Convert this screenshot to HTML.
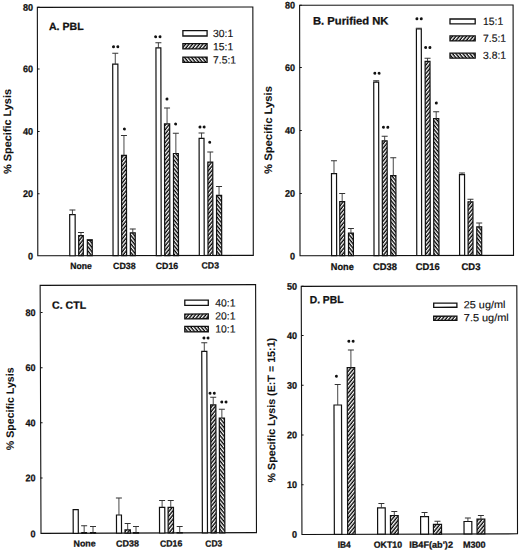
<!DOCTYPE html>
<html><head><meta charset="utf-8"><style>
html,body{margin:0;padding:0;background:#fff;width:520px;height:551px;overflow:hidden;}
svg{display:block;}
text{font-family:"Liberation Sans",sans-serif;fill:#111;text-rendering:geometricPrecision;}
</style></head><body>
<svg width="520" height="551" viewBox="0 0 520 551">
<defs>
<pattern id="hf" patternUnits="userSpaceOnUse" width="2.7" height="2.7" patternTransform="rotate(39)"><rect width="2.7" height="2.7" fill="#000"/><rect width="1.35" height="2.7" fill="#fff"/></pattern>
<pattern id="hb" patternUnits="userSpaceOnUse" width="2.7" height="2.7" patternTransform="rotate(-39)"><rect width="2.7" height="2.7" fill="#000"/><rect width="1.35" height="2.7" fill="#fff"/></pattern>
</defs>
<rect width="520" height="551" fill="#fff"/>
<g transform="rotate(-0.1046 145.32 131.41)">
<rect x="37.57" y="7.22" width="215.5" height="248.38" fill="none" stroke="#111" stroke-width="1.1"/>
<text x="32.77" y="259.19" font-size="9.6" font-weight="bold" text-anchor="end" textLength="5.05" lengthAdjust="spacingAndGlyphs" stroke="#111" stroke-width="0.26">0</text>
<line x1="37.46" y1="193.5" x2="39.46" y2="193.5" stroke="#111" stroke-width="1"/>
<text x="32.88" y="196.89" font-size="9.6" font-weight="bold" text-anchor="end" textLength="10.1" lengthAdjust="spacingAndGlyphs" stroke="#111" stroke-width="0.26">20</text>
<line x1="37.58" y1="131.2" x2="39.58" y2="131.2" stroke="#111" stroke-width="1"/>
<text x="32.99" y="134.59" font-size="9.6" font-weight="bold" text-anchor="end" textLength="10.1" lengthAdjust="spacingAndGlyphs" stroke="#111" stroke-width="0.26">40</text>
<line x1="37.69" y1="68.7" x2="39.69" y2="68.7" stroke="#111" stroke-width="1"/>
<text x="33.11" y="72.09" font-size="9.6" font-weight="bold" text-anchor="end" textLength="10.1" lengthAdjust="spacingAndGlyphs" stroke="#111" stroke-width="0.26">60</text>
<line x1="37.8" y1="7.1" x2="39.8" y2="7.1" stroke="#111" stroke-width="1"/>
<text x="33.22" y="10.49" font-size="9.6" font-weight="bold" text-anchor="end" textLength="10.1" lengthAdjust="spacingAndGlyphs" stroke="#111" stroke-width="0.26">80</text>
<rect x="69.54" y="214.57" width="5.45" height="41.03" fill="#fff" stroke="#111" stroke-width="1.2"/>
<line x1="72.27" y1="214.57" x2="72.27" y2="209.77" stroke="#333" stroke-width="0.9"/>
<line x1="69.27" y1="209.77" x2="75.27" y2="209.77" stroke="#333" stroke-width="1"/>
<rect x="78.49" y="235.48" width="4.6" height="20.12" fill="url(#hf)" stroke="#111" stroke-width="1.2"/>
<line x1="80.79" y1="235.48" x2="80.79" y2="232.28" stroke="#333" stroke-width="0.9"/>
<line x1="77.79" y1="232.28" x2="83.79" y2="232.28" stroke="#333" stroke-width="1"/>
<rect x="87.14" y="240.2" width="4.9" height="15.4" fill="url(#hb)" stroke="#111" stroke-width="1.2"/>
<line x1="89.59" y1="240.2" x2="89.59" y2="239.4" stroke="#333" stroke-width="0.9"/>
<line x1="86.59" y1="239.4" x2="92.59" y2="239.4" stroke="#333" stroke-width="1"/>
<rect x="112.83" y="64.05" width="5.16" height="191.55" fill="#fff" stroke="#111" stroke-width="1.2"/>
<line x1="115.41" y1="64.05" x2="115.41" y2="53.25" stroke="#333" stroke-width="0.9"/>
<line x1="112.41" y1="53.25" x2="118.41" y2="53.25" stroke="#333" stroke-width="1"/>
<rect x="121.49" y="155.36" width="4.9" height="100.24" fill="url(#hf)" stroke="#111" stroke-width="1.2"/>
<line x1="123.94" y1="155.36" x2="123.94" y2="135.46" stroke="#333" stroke-width="0.9"/>
<line x1="120.94" y1="135.46" x2="126.94" y2="135.46" stroke="#333" stroke-width="1"/>
<rect x="130.14" y="232.78" width="4.9" height="22.82" fill="url(#hb)" stroke="#111" stroke-width="1.2"/>
<line x1="132.59" y1="232.78" x2="132.59" y2="228.88" stroke="#333" stroke-width="0.9"/>
<line x1="129.59" y1="228.88" x2="135.59" y2="228.88" stroke="#333" stroke-width="1"/>
<rect x="156.09" y="47.92" width="4.9" height="207.68" fill="#fff" stroke="#111" stroke-width="1.2"/>
<line x1="158.54" y1="47.92" x2="158.54" y2="42.72" stroke="#333" stroke-width="0.9"/>
<line x1="155.54" y1="42.72" x2="161.54" y2="42.72" stroke="#333" stroke-width="1"/>
<rect x="164.49" y="123.94" width="5.2" height="131.66" fill="url(#hf)" stroke="#111" stroke-width="1.2"/>
<line x1="167.09" y1="123.94" x2="167.09" y2="107.94" stroke="#333" stroke-width="0.9"/>
<line x1="164.09" y1="107.94" x2="170.09" y2="107.94" stroke="#333" stroke-width="1"/>
<rect x="173.39" y="153.56" width="4.9" height="102.04" fill="url(#hb)" stroke="#111" stroke-width="1.2"/>
<line x1="175.84" y1="153.56" x2="175.84" y2="133.36" stroke="#333" stroke-width="0.9"/>
<line x1="172.84" y1="133.36" x2="178.84" y2="133.36" stroke="#333" stroke-width="1"/>
<rect x="199.09" y="138.4" width="4.9" height="117.2" fill="#fff" stroke="#111" stroke-width="1.2"/>
<line x1="201.54" y1="138.4" x2="201.54" y2="133" stroke="#333" stroke-width="0.9"/>
<line x1="198.54" y1="133" x2="204.54" y2="133" stroke="#333" stroke-width="1"/>
<rect x="207.79" y="162.32" width="4.9" height="93.28" fill="url(#hf)" stroke="#111" stroke-width="1.2"/>
<line x1="210.24" y1="162.32" x2="210.24" y2="152.12" stroke="#333" stroke-width="0.9"/>
<line x1="207.24" y1="152.12" x2="213.24" y2="152.12" stroke="#333" stroke-width="1"/>
<rect x="216.39" y="195.53" width="5.1" height="60.07" fill="url(#hb)" stroke="#111" stroke-width="1.2"/>
<line x1="218.94" y1="195.53" x2="218.94" y2="186.73" stroke="#333" stroke-width="0.9"/>
<line x1="215.94" y1="186.73" x2="221.94" y2="186.73" stroke="#333" stroke-width="1"/>
<circle cx="113.65" cy="46.79" r="1.5" fill="#111"/>
<circle cx="117.95" cy="46.8" r="1.5" fill="#111"/>
<circle cx="124.4" cy="128.86" r="1.5" fill="#111"/>
<circle cx="155.77" cy="36.87" r="1.5" fill="#111"/>
<circle cx="160.17" cy="36.88" r="1.5" fill="#111"/>
<circle cx="167.03" cy="99.04" r="1.5" fill="#111"/>
<circle cx="175.61" cy="124.16" r="1.5" fill="#111"/>
<circle cx="199.97" cy="127.1" r="1.5" fill="#111"/>
<circle cx="204.11" cy="127.11" r="1.5" fill="#111"/>
<circle cx="209.68" cy="142.48" r="1.5" fill="#111"/>
<rect x="183.08" y="30.69" width="24.2" height="5.4" fill="#fff" stroke="#111" stroke-width="1.3"/>
<text x="213.17" y="37.12" font-size="10.4" font-weight="normal" text-anchor="start" stroke="#111" stroke-width="0.15">30:1</text>
<rect x="183.06" y="43.69" width="24.2" height="5.3" fill="url(#hf)" stroke="#111" stroke-width="1.3"/>
<text x="213.15" y="50.42" font-size="10.4" font-weight="normal" text-anchor="start" stroke="#111" stroke-width="0.15">15:1</text>
<rect x="183.03" y="57.19" width="24.2" height="5.3" fill="url(#hb)" stroke="#111" stroke-width="1.3"/>
<text x="213.12" y="63.72" font-size="10.4" font-weight="normal" text-anchor="start" stroke="#111" stroke-width="0.15">7.5:1</text>
<text x="49.19" y="29.82" font-size="10.5" font-weight="bold" text-anchor="start" textLength="34.6" lengthAdjust="spacingAndGlyphs" stroke="#111" stroke-width="0.26">A. PBL</text>
<text x="80.85" y="268.88" font-size="9" font-weight="bold" text-anchor="middle" textLength="21.5" lengthAdjust="spacingAndGlyphs" stroke="#111" stroke-width="0.26">None</text>
<text x="124.15" y="268.96" font-size="9" font-weight="bold" text-anchor="middle" textLength="22.6" lengthAdjust="spacingAndGlyphs" stroke="#111" stroke-width="0.26">CD38</text>
<text x="166.75" y="269.04" font-size="9" font-weight="bold" text-anchor="middle" textLength="22.4" lengthAdjust="spacingAndGlyphs" stroke="#111" stroke-width="0.26">CD16</text>
<text x="210.05" y="268.72" font-size="9" font-weight="bold" text-anchor="middle" textLength="17.4" lengthAdjust="spacingAndGlyphs" stroke="#111" stroke-width="0.26">CD3</text>
<text transform="translate(11.12 131.25) rotate(-90)" x="0" y="0" font-size="10.9" font-weight="bold" text-anchor="middle" stroke="#111" stroke-width="0.08" textLength="85" lengthAdjust="spacingAndGlyphs">% Specific Lysis</text>
</g>
<g transform="rotate(-0.0950 406.56 130.32)">
<rect x="299.82" y="5.11" width="213.48" height="250.41" fill="none" stroke="#111" stroke-width="1.1"/>
<text x="294.79" y="259.42" font-size="9.6" font-weight="bold" text-anchor="end" textLength="5.05" lengthAdjust="spacingAndGlyphs" stroke="#111" stroke-width="0.26">0</text>
<line x1="299.72" y1="193.22" x2="301.72" y2="193.22" stroke="#111" stroke-width="1"/>
<text x="294.89" y="196.62" font-size="9.6" font-weight="bold" text-anchor="end" textLength="10.1" lengthAdjust="spacingAndGlyphs" stroke="#111" stroke-width="0.26">20</text>
<line x1="299.82" y1="130.27" x2="301.82" y2="130.27" stroke="#111" stroke-width="1"/>
<text x="294.99" y="133.67" font-size="9.6" font-weight="bold" text-anchor="end" textLength="10.1" lengthAdjust="spacingAndGlyphs" stroke="#111" stroke-width="0.26">40</text>
<line x1="299.93" y1="67.42" x2="301.93" y2="67.42" stroke="#111" stroke-width="1"/>
<text x="295.1" y="70.82" font-size="9.6" font-weight="bold" text-anchor="end" textLength="10.1" lengthAdjust="spacingAndGlyphs" stroke="#111" stroke-width="0.26">60</text>
<line x1="300.03" y1="5.02" x2="302.03" y2="5.02" stroke="#111" stroke-width="1"/>
<text x="295.2" y="8.42" font-size="9.6" font-weight="bold" text-anchor="end" textLength="10.1" lengthAdjust="spacingAndGlyphs" stroke="#111" stroke-width="0.26">80</text>
<rect x="331.41" y="173.48" width="5.05" height="82.05" fill="#fff" stroke="#111" stroke-width="1.2"/>
<line x1="333.93" y1="173.48" x2="333.93" y2="160.68" stroke="#333" stroke-width="0.9"/>
<line x1="330.93" y1="160.68" x2="336.93" y2="160.68" stroke="#333" stroke-width="1"/>
<rect x="339.61" y="201.59" width="4.9" height="53.93" fill="url(#hf)" stroke="#111" stroke-width="1.2"/>
<line x1="342.06" y1="201.59" x2="342.06" y2="193.39" stroke="#333" stroke-width="0.9"/>
<line x1="339.06" y1="193.39" x2="345.06" y2="193.39" stroke="#333" stroke-width="1"/>
<rect x="348.31" y="233.01" width="4.9" height="22.52" fill="url(#hb)" stroke="#111" stroke-width="1.2"/>
<line x1="350.76" y1="233.01" x2="350.76" y2="228.41" stroke="#333" stroke-width="0.9"/>
<line x1="347.76" y1="228.41" x2="353.76" y2="228.41" stroke="#333" stroke-width="1"/>
<rect x="373.81" y="82.15" width="4.9" height="173.38" fill="#fff" stroke="#111" stroke-width="1.2"/>
<line x1="376.26" y1="82.15" x2="376.26" y2="80.65" stroke="#333" stroke-width="0.9"/>
<line x1="373.26" y1="80.65" x2="379.26" y2="80.65" stroke="#333" stroke-width="1"/>
<rect x="382.21" y="140.76" width="4.9" height="114.76" fill="url(#hf)" stroke="#111" stroke-width="1.2"/>
<line x1="384.66" y1="140.76" x2="384.66" y2="136.16" stroke="#333" stroke-width="0.9"/>
<line x1="381.66" y1="136.16" x2="387.66" y2="136.16" stroke="#333" stroke-width="1"/>
<rect x="390.61" y="175.58" width="5.2" height="79.95" fill="url(#hb)" stroke="#111" stroke-width="1.2"/>
<line x1="393.21" y1="175.58" x2="393.21" y2="157.68" stroke="#333" stroke-width="0.9"/>
<line x1="390.21" y1="157.68" x2="396.21" y2="157.68" stroke="#333" stroke-width="1"/>
<rect x="416.56" y="29.02" width="4.9" height="226.5" fill="#fff" stroke="#111" stroke-width="1.2"/>
<line x1="419.01" y1="29.02" x2="419.01" y2="28.32" stroke="#333" stroke-width="0.9"/>
<line x1="416.01" y1="28.32" x2="422.01" y2="28.32" stroke="#333" stroke-width="1"/>
<rect x="425.21" y="61.34" width="4.9" height="194.19" fill="url(#hf)" stroke="#111" stroke-width="1.2"/>
<line x1="427.66" y1="61.34" x2="427.66" y2="58.24" stroke="#333" stroke-width="0.9"/>
<line x1="424.66" y1="58.24" x2="430.66" y2="58.24" stroke="#333" stroke-width="1"/>
<rect x="433.61" y="118.75" width="5.2" height="136.78" fill="url(#hb)" stroke="#111" stroke-width="1.2"/>
<line x1="436.21" y1="118.75" x2="436.21" y2="111.85" stroke="#333" stroke-width="0.9"/>
<line x1="433.21" y1="111.85" x2="439.21" y2="111.85" stroke="#333" stroke-width="1"/>
<rect x="459.41" y="174.79" width="5.05" height="80.73" fill="#fff" stroke="#111" stroke-width="1.2"/>
<line x1="461.93" y1="174.79" x2="461.93" y2="172.99" stroke="#333" stroke-width="0.9"/>
<line x1="458.93" y1="172.99" x2="464.93" y2="172.99" stroke="#333" stroke-width="1"/>
<rect x="467.91" y="201.91" width="4.9" height="53.62" fill="url(#hf)" stroke="#111" stroke-width="1.2"/>
<line x1="470.36" y1="201.91" x2="470.36" y2="199.31" stroke="#333" stroke-width="0.9"/>
<line x1="467.36" y1="199.31" x2="473.36" y2="199.31" stroke="#333" stroke-width="1"/>
<rect x="476.61" y="226.92" width="4.9" height="28.6" fill="url(#hb)" stroke="#111" stroke-width="1.2"/>
<line x1="479.06" y1="226.92" x2="479.06" y2="223.22" stroke="#333" stroke-width="0.9"/>
<line x1="476.06" y1="223.22" x2="482.06" y2="223.22" stroke="#333" stroke-width="1"/>
<circle cx="374.89" cy="73.25" r="1.5" fill="#111"/>
<circle cx="379.19" cy="73.25" r="1.5" fill="#111"/>
<circle cx="383.41" cy="127.26" r="1.5" fill="#111"/>
<circle cx="387.81" cy="127.27" r="1.5" fill="#111"/>
<circle cx="417.09" cy="18.67" r="1.5" fill="#111"/>
<circle cx="421.44" cy="18.67" r="1.5" fill="#111"/>
<circle cx="425.74" cy="47.53" r="1.5" fill="#111"/>
<circle cx="430.04" cy="47.54" r="1.5" fill="#111"/>
<circle cx="436.35" cy="103.05" r="1.5" fill="#111"/>
<rect x="450.18" y="19.09" width="25.2" height="4.8" fill="#fff" stroke="#111" stroke-width="1.3"/>
<text x="483.17" y="25.03" font-size="10.4" font-weight="normal" text-anchor="start" stroke="#111" stroke-width="0.15">15:1</text>
<rect x="450.15" y="35.99" width="25.2" height="5" fill="url(#hf)" stroke="#111" stroke-width="1.3"/>
<text x="483.15" y="42.03" font-size="10.4" font-weight="normal" text-anchor="start" stroke="#111" stroke-width="0.15">7.5:1</text>
<rect x="450.12" y="53.29" width="25.2" height="5" fill="url(#hb)" stroke="#111" stroke-width="1.3"/>
<text x="483.12" y="59.03" font-size="10.4" font-weight="normal" text-anchor="start" stroke="#111" stroke-width="0.15">3.8:1</text>
<text x="313.08" y="24.44" font-size="10.8" font-weight="bold" text-anchor="start" textLength="75.6" lengthAdjust="spacingAndGlyphs" stroke="#111" stroke-width="0.26">B. Purified NK</text>
<text x="342.07" y="269.99" font-size="9.7" font-weight="bold" text-anchor="middle" textLength="23" lengthAdjust="spacingAndGlyphs" stroke="#111" stroke-width="0.26">None</text>
<text x="384.77" y="270.06" font-size="9.7" font-weight="bold" text-anchor="middle" textLength="23.9" lengthAdjust="spacingAndGlyphs" stroke="#111" stroke-width="0.26">CD38</text>
<text x="427.57" y="270.14" font-size="9.7" font-weight="bold" text-anchor="middle" textLength="24" lengthAdjust="spacingAndGlyphs" stroke="#111" stroke-width="0.26">CD16</text>
<text x="470.77" y="270.21" font-size="9.7" font-weight="bold" text-anchor="middle" textLength="18.9" lengthAdjust="spacingAndGlyphs" stroke="#111" stroke-width="0.26">CD3</text>
<text transform="translate(271.92 129.77) rotate(-90)" x="0" y="0" font-size="10.9" font-weight="bold" text-anchor="middle" stroke="#111" stroke-width="0.08" textLength="88" lengthAdjust="spacingAndGlyphs">% Specific Lysis</text>
</g>
<g transform="rotate(-0.2005 148.31 409.02)">
<rect x="40.57" y="285" width="215.47" height="248.05" fill="none" stroke="#111" stroke-width="1.1"/>
<text x="35.15" y="536.91" font-size="9.6" font-weight="bold" text-anchor="end" textLength="5.05" lengthAdjust="spacingAndGlyphs" stroke="#111" stroke-width="0.26">0</text>
<line x1="40.33" y1="477.55" x2="42.33" y2="477.55" stroke="#111" stroke-width="1"/>
<text x="35.35" y="480.93" font-size="9.6" font-weight="bold" text-anchor="end" textLength="10.1" lengthAdjust="spacingAndGlyphs" stroke="#111" stroke-width="0.26">20</text>
<line x1="40.52" y1="422.43" x2="42.52" y2="422.43" stroke="#111" stroke-width="1"/>
<text x="35.54" y="425.81" font-size="9.6" font-weight="bold" text-anchor="end" textLength="10.1" lengthAdjust="spacingAndGlyphs" stroke="#111" stroke-width="0.26">40</text>
<line x1="40.71" y1="367.31" x2="42.71" y2="367.31" stroke="#111" stroke-width="1"/>
<text x="35.73" y="370.69" font-size="9.6" font-weight="bold" text-anchor="end" textLength="10.1" lengthAdjust="spacingAndGlyphs" stroke="#111" stroke-width="0.26">60</text>
<line x1="40.91" y1="312.18" x2="42.91" y2="312.18" stroke="#111" stroke-width="1"/>
<text x="35.93" y="315.57" font-size="9.6" font-weight="bold" text-anchor="end" textLength="10.1" lengthAdjust="spacingAndGlyphs" stroke="#111" stroke-width="0.26">80</text>
<rect x="72.79" y="509.45" width="5.1" height="23.61" fill="#fff" stroke="#111" stroke-width="1.2"/>
<rect x="81.39" y="532.38" width="4.7" height="0.68" fill="url(#hf)" stroke="#111" stroke-width="1.2"/>
<line x1="83.74" y1="532.38" x2="83.74" y2="525.48" stroke="#333" stroke-width="0.9"/>
<line x1="80.74" y1="525.48" x2="86.74" y2="525.48" stroke="#333" stroke-width="1"/>
<rect x="90.09" y="532.41" width="5" height="0.65" fill="url(#hb)" stroke="#111" stroke-width="1.2"/>
<line x1="92.59" y1="532.41" x2="92.59" y2="526.31" stroke="#333" stroke-width="0.9"/>
<line x1="89.59" y1="526.31" x2="95.59" y2="526.31" stroke="#333" stroke-width="1"/>
<rect x="116.09" y="514.9" width="5" height="18.15" fill="#fff" stroke="#111" stroke-width="1.2"/>
<line x1="118.59" y1="514.9" x2="118.59" y2="498" stroke="#333" stroke-width="0.9"/>
<line x1="115.59" y1="498" x2="121.59" y2="498" stroke="#333" stroke-width="1"/>
<rect x="124.59" y="529.83" width="5.35" height="3.22" fill="url(#hf)" stroke="#111" stroke-width="1.2"/>
<line x1="127.27" y1="529.83" x2="127.27" y2="523.43" stroke="#333" stroke-width="0.9"/>
<line x1="124.27" y1="523.43" x2="130.27" y2="523.43" stroke="#333" stroke-width="1"/>
<rect x="133.09" y="532.56" width="5" height="0.49" fill="url(#hb)" stroke="#111" stroke-width="1.2"/>
<line x1="135.59" y1="532.56" x2="135.59" y2="526.46" stroke="#333" stroke-width="0.9"/>
<line x1="132.59" y1="526.46" x2="138.59" y2="526.46" stroke="#333" stroke-width="1"/>
<rect x="159.13" y="507.35" width="5.3" height="25.7" fill="#fff" stroke="#111" stroke-width="1.2"/>
<line x1="161.78" y1="507.35" x2="161.78" y2="500.45" stroke="#333" stroke-width="0.9"/>
<line x1="158.78" y1="500.45" x2="164.78" y2="500.45" stroke="#333" stroke-width="1"/>
<rect x="167.73" y="507.38" width="5.4" height="25.67" fill="url(#hf)" stroke="#111" stroke-width="1.2"/>
<line x1="170.43" y1="507.38" x2="170.43" y2="500.48" stroke="#333" stroke-width="0.9"/>
<line x1="167.43" y1="500.48" x2="173.43" y2="500.48" stroke="#333" stroke-width="1"/>
<rect x="176.73" y="532.71" width="5.1" height="0.4" fill="url(#hb)" stroke="#111" stroke-width="1.2"/>
<line x1="179.28" y1="532.71" x2="179.28" y2="526.71" stroke="#333" stroke-width="0.9"/>
<line x1="176.28" y1="526.71" x2="182.28" y2="526.71" stroke="#333" stroke-width="1"/>
<rect x="201.95" y="351.6" width="5.1" height="181.45" fill="#fff" stroke="#111" stroke-width="1.2"/>
<line x1="204.5" y1="351.6" x2="204.5" y2="342.9" stroke="#333" stroke-width="0.9"/>
<line x1="201.5" y1="342.9" x2="207.5" y2="342.9" stroke="#333" stroke-width="1"/>
<rect x="210.65" y="405.13" width="5.2" height="127.92" fill="url(#hf)" stroke="#111" stroke-width="1.2"/>
<line x1="213.25" y1="405.13" x2="213.25" y2="397.43" stroke="#333" stroke-width="0.9"/>
<line x1="210.25" y1="397.43" x2="216.25" y2="397.43" stroke="#333" stroke-width="1"/>
<rect x="219.25" y="418.26" width="5.2" height="114.79" fill="url(#hb)" stroke="#111" stroke-width="1.2"/>
<line x1="221.85" y1="418.26" x2="221.85" y2="409.56" stroke="#333" stroke-width="0.9"/>
<line x1="218.85" y1="409.56" x2="224.85" y2="409.56" stroke="#333" stroke-width="1"/>
<circle cx="204.15" cy="338.29" r="1.5" fill="#111"/>
<circle cx="208.25" cy="338.31" r="1.5" fill="#111"/>
<circle cx="210.06" cy="393.47" r="1.5" fill="#111"/>
<circle cx="214.31" cy="393.48" r="1.5" fill="#111"/>
<circle cx="221.77" cy="402.16" r="1.5" fill="#111"/>
<circle cx="226.02" cy="402.17" r="1.5" fill="#111"/>
<rect x="185.17" y="300.27" width="23.5" height="5.3" fill="#fff" stroke="#111" stroke-width="1.3"/>
<text x="215.66" y="306.73" font-size="10.4" font-weight="normal" text-anchor="start" stroke="#111" stroke-width="0.15">40:1</text>
<rect x="185.12" y="314.17" width="23.5" height="4.8" fill="url(#hf)" stroke="#111" stroke-width="1.3"/>
<text x="215.61" y="319.73" font-size="10.4" font-weight="normal" text-anchor="start" stroke="#111" stroke-width="0.15">20:1</text>
<rect x="185.08" y="326.57" width="23.5" height="5.4" fill="url(#hb)" stroke="#111" stroke-width="1.3"/>
<text x="215.57" y="332.73" font-size="10.4" font-weight="normal" text-anchor="start" stroke="#111" stroke-width="0.15">10:1</text>
<text x="52.35" y="308.46" font-size="10.5" font-weight="bold" text-anchor="start" textLength="34.2" lengthAdjust="spacingAndGlyphs" stroke="#111" stroke-width="0.26">C. CTL</text>
<text x="84.12" y="546.38" font-size="9" font-weight="bold" text-anchor="middle" textLength="22.2" lengthAdjust="spacingAndGlyphs" stroke="#111" stroke-width="0.26">None</text>
<text x="127.02" y="546.53" font-size="9" font-weight="bold" text-anchor="middle" textLength="23" lengthAdjust="spacingAndGlyphs" stroke="#111" stroke-width="0.26">CD38</text>
<text x="170.62" y="546.68" font-size="9" font-weight="bold" text-anchor="middle" textLength="22.3" lengthAdjust="spacingAndGlyphs" stroke="#111" stroke-width="0.26">CD16</text>
<text x="213.32" y="546.83" font-size="9" font-weight="bold" text-anchor="middle" textLength="16.9" lengthAdjust="spacingAndGlyphs" stroke="#111" stroke-width="0.26">CD3</text>
<text transform="translate(13.72 408.32) rotate(-90)" x="0" y="0" font-size="10.6" font-weight="bold" text-anchor="middle" stroke="#111" stroke-width="0.08" textLength="82.8" lengthAdjust="spacingAndGlyphs">% Specific Lysis</text>
</g>
<g transform="rotate(-0.1638 409.38 410.08)">
<rect x="301.59" y="286.05" width="215.58" height="248.07" fill="none" stroke="#111" stroke-width="1.1"/>
<text x="296.63" y="537.48" font-size="9.6" font-weight="bold" text-anchor="end" textLength="5.05" lengthAdjust="spacingAndGlyphs" stroke="#111" stroke-width="0.26">0</text>
<line x1="301.38" y1="484.39" x2="303.38" y2="484.39" stroke="#111" stroke-width="1"/>
<text x="296.78" y="487.78" font-size="9.6" font-weight="bold" text-anchor="end" textLength="10.1" lengthAdjust="spacingAndGlyphs" stroke="#111" stroke-width="0.26">10</text>
<line x1="301.52" y1="434.59" x2="303.52" y2="434.59" stroke="#111" stroke-width="1"/>
<text x="296.92" y="437.98" font-size="9.6" font-weight="bold" text-anchor="end" textLength="10.1" lengthAdjust="spacingAndGlyphs" stroke="#111" stroke-width="0.26">20</text>
<line x1="301.67" y1="384.99" x2="303.67" y2="384.99" stroke="#111" stroke-width="1"/>
<text x="297.06" y="388.38" font-size="9.6" font-weight="bold" text-anchor="end" textLength="10.1" lengthAdjust="spacingAndGlyphs" stroke="#111" stroke-width="0.26">30</text>
<line x1="301.81" y1="335.19" x2="303.81" y2="335.19" stroke="#111" stroke-width="1"/>
<text x="297.2" y="338.58" font-size="9.6" font-weight="bold" text-anchor="end" textLength="10.1" lengthAdjust="spacingAndGlyphs" stroke="#111" stroke-width="0.26">40</text>
<line x1="301.95" y1="285.99" x2="303.95" y2="285.99" stroke="#111" stroke-width="1"/>
<text x="297.34" y="289.38" font-size="9.6" font-weight="bold" text-anchor="end" textLength="10.1" lengthAdjust="spacingAndGlyphs" stroke="#111" stroke-width="0.26">50</text>
<rect x="334.01" y="404.8" width="7.5" height="129.32" fill="#fff" stroke="#111" stroke-width="1.2"/>
<line x1="337.76" y1="404.8" x2="337.76" y2="384.2" stroke="#333" stroke-width="0.9"/>
<line x1="334.76" y1="384.2" x2="340.76" y2="384.2" stroke="#333" stroke-width="1"/>
<rect x="347.31" y="367.53" width="7.5" height="166.58" fill="url(#hf)" stroke="#111" stroke-width="1.2"/>
<line x1="351.06" y1="367.53" x2="351.06" y2="349.83" stroke="#333" stroke-width="0.9"/>
<line x1="348.06" y1="349.83" x2="354.06" y2="349.83" stroke="#333" stroke-width="1"/>
<rect x="377.29" y="507.82" width="7.65" height="26.3" fill="#fff" stroke="#111" stroke-width="1.2"/>
<line x1="381.11" y1="507.82" x2="381.11" y2="503.42" stroke="#333" stroke-width="0.9"/>
<line x1="378.11" y1="503.42" x2="384.11" y2="503.42" stroke="#333" stroke-width="1"/>
<rect x="390.14" y="515.46" width="7.75" height="18.66" fill="url(#hf)" stroke="#111" stroke-width="1.2"/>
<line x1="394.01" y1="515.46" x2="394.01" y2="511.36" stroke="#333" stroke-width="0.9"/>
<line x1="391.01" y1="511.36" x2="397.01" y2="511.36" stroke="#333" stroke-width="1"/>
<rect x="420.29" y="516.64" width="7.9" height="17.47" fill="#fff" stroke="#111" stroke-width="1.2"/>
<line x1="424.24" y1="516.64" x2="424.24" y2="512.44" stroke="#333" stroke-width="0.9"/>
<line x1="421.24" y1="512.44" x2="427.24" y2="512.44" stroke="#333" stroke-width="1"/>
<rect x="433.09" y="524.48" width="8.1" height="9.64" fill="url(#hf)" stroke="#111" stroke-width="1.2"/>
<line x1="437.14" y1="524.48" x2="437.14" y2="521.33" stroke="#333" stroke-width="0.9"/>
<line x1="434.14" y1="521.33" x2="440.14" y2="521.33" stroke="#333" stroke-width="1"/>
<rect x="463.69" y="521.67" width="7.8" height="12.45" fill="#fff" stroke="#111" stroke-width="1.2"/>
<line x1="467.59" y1="521.67" x2="467.59" y2="518.27" stroke="#333" stroke-width="0.9"/>
<line x1="464.59" y1="518.27" x2="470.59" y2="518.27" stroke="#333" stroke-width="1"/>
<rect x="476.69" y="519.4" width="7.8" height="14.71" fill="url(#hf)" stroke="#111" stroke-width="1.2"/>
<line x1="480.59" y1="519.4" x2="480.59" y2="515.7" stroke="#333" stroke-width="0.9"/>
<line x1="477.59" y1="515.7" x2="483.59" y2="515.7" stroke="#333" stroke-width="1"/>
<circle cx="336.45" cy="375.99" r="1.5" fill="#111"/>
<circle cx="349" cy="341.08" r="1.5" fill="#111"/>
<circle cx="353.3" cy="341.09" r="1.5" fill="#111"/>
<rect x="434" y="303.2" width="23.2" height="4.2" fill="#fff" stroke="#111" stroke-width="1.3"/>
<text x="464.09" y="308.36" font-size="10.4" font-weight="normal" text-anchor="start" textLength="41.6" lengthAdjust="spacingAndGlyphs" stroke="#111" stroke-width="0.15">25 ug/ml</text>
<rect x="433.96" y="316.3" width="23.2" height="4.2" fill="url(#hf)" stroke="#111" stroke-width="1.3"/>
<text x="464.05" y="321.36" font-size="10.4" font-weight="normal" text-anchor="start" textLength="45" lengthAdjust="spacingAndGlyphs" stroke="#111" stroke-width="0.15">7.5 ug/ml</text>
<text x="310.01" y="302.92" font-size="10.4" font-weight="bold" text-anchor="start" textLength="33.8" lengthAdjust="spacingAndGlyphs" stroke="#111" stroke-width="0.26">D. PBL</text>
<text x="343.81" y="547.51" font-size="9" font-weight="bold" text-anchor="middle" textLength="13" lengthAdjust="spacingAndGlyphs" stroke="#111" stroke-width="0.26">IB4</text>
<text x="387.51" y="547.64" font-size="9" font-weight="bold" text-anchor="middle" textLength="28.2" lengthAdjust="spacingAndGlyphs" stroke="#111" stroke-width="0.26">OKT10</text>
<text x="430.71" y="547.76" font-size="9" font-weight="bold" text-anchor="middle" textLength="43.8" lengthAdjust="spacingAndGlyphs" stroke="#111" stroke-width="0.26">IB4F(ab')2</text>
<text x="473.91" y="547.89" font-size="9" font-weight="bold" text-anchor="middle" textLength="22.7" lengthAdjust="spacingAndGlyphs" stroke="#111" stroke-width="0.26">M300</text>
<text transform="translate(275.05 409.81) rotate(-90)" x="0" y="0" font-size="10.7" font-weight="bold" text-anchor="middle" stroke="#111" stroke-width="0.08" textLength="144.7" lengthAdjust="spacingAndGlyphs">% Specific Lysis (E:T = 15:1)</text>
</g>
</svg>
</body></html>
